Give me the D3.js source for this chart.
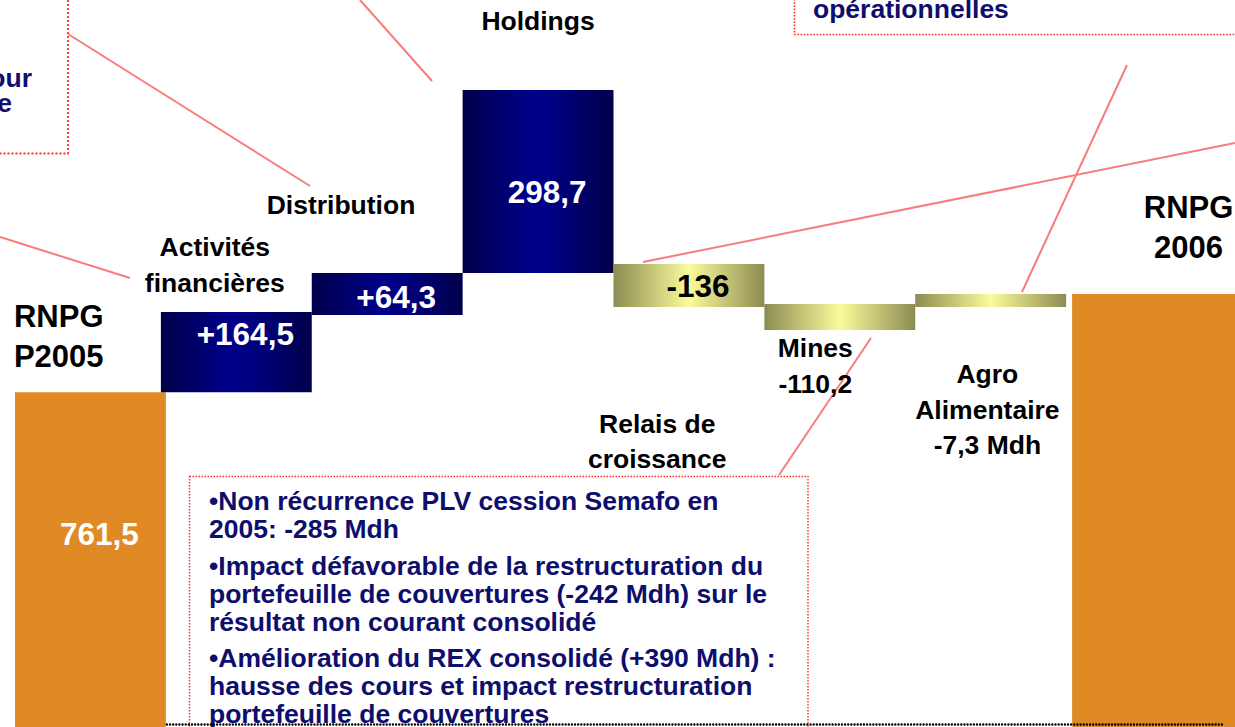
<!DOCTYPE html>
<html><head><meta charset="utf-8">
<script src="https://cdn.jsdelivr.net/npm/d3@7"></script>
<style>html,body{margin:0;padding:0;background:#fff;overflow:hidden}svg{display:block}</style>
</head><body>
<svg id="c" width="1235" height="727"></svg>
<script>
// ---------------- data ----------------
const categories = ["RNPG P2005", "Activités financières", "Distribution", "Holdings",
  "Relais de croissance", "Mines", "Agro Alimentaire", "RNPG 2006"];
const values = [761.5, 164.5, 64.3, 298.7, -136, -110.2, -7.3, 1035.5];
const kinds = ["total", "up", "up", "up", "down", "down", "down", "total"];
// bar extents as drawn in the (schematic) picture, in chart value units
const barLow  = [0, 761.5, 916, 1000, 932, 886, 932, 0];
const barHigh = [761.5, 922, 1000, 1366, 1018, 938, 958, 958];
const valueText = ["761,5", "+164,5", "+64,3", "298,7", "-136", null, null, "+1 035,5"];
const categoryLines = [["RNPG", "P2005"], ["Activités", "financières"], ["Distribution"], ["Holdings"],
  ["Relais de", "croissance"], ["Mines", "-110,2"], ["Agro", "Alimentaire", "-7,3 Mdh"], ["RNPG", "2006"]];
const noteParagraphs = [
  ["•Non récurrence PLV cession Semafo en", "2005: -285 Mdh"],
  ["•Impact défavorable de la restructuration du", "portefeuille de couvertures (-242 Mdh) sur le", "résultat non courant consolidé"],
  ["•Amélioration du REX consolidé (+390 Mdh) :", "hausse des cours et impact restructuration", "portefeuille de couvertures"]
];
const topLeftNote = ["pour", "e"];
const topRightNote = ["opérationnelles"];

// ---------------- drawing ----------------
const W = 1235, H = 727;
const FONT = "'Liberation Sans', Arial, Helvetica, sans-serif";
const NAVY_TEXT = "#0e0e6c";
const svg = d3.select("#c").attr("font-family", FONT).attr("font-weight", "bold");
svg.append("rect").attr("width", W).attr("height", H).attr("fill", "#fff");

const x = d3.scaleBand().domain(categories).range([10, 1217]).paddingInner(0).paddingOuter(0);
const y = d3.scaleLinear().domain([0, 1400]).range([773, 73]);
const bw = x.bandwidth();

const defs = svg.append("defs");
function grad(id, stops) {
  const g = defs.append("linearGradient").attr("id", id).attr("x1", 0).attr("x2", 1).attr("y1", 0).attr("y2", 0);
  stops.forEach(([o, c]) => g.append("stop").attr("offset", o).attr("stop-color", c));
}
grad("gNavy", [[0, "#00004a"], [0.45, "#00008a"], [0.6, "#000082"], [1, "#00004a"]]);
grad("gOlive", [[0, "#8c8c52"], [0.5, "#fbfb9c"], [1, "#8c8c52"]]);
const fillFor = k => k === "total" ? "#df8a24" : (k === "up" ? "url(#gNavy)" : "url(#gOlive)");

function barX(i) {
  let x0 = x(categories[i]), w = bw;
  if (i === categories.length - 1) { x0 += 6; w += 12; }
  if (i === 0) { x0 += 5; }
  return [x0, w];
}

// annotation boxes (dotted red)
const boxes = svg.append("g").attr("fill", "none").attr("stroke", "#ff2a2a");
boxes.append("rect").attr("x", -10).attr("y", -10).attr("width", 78).attr("height", 163.5)
  .attr("stroke-width", 1.8).attr("stroke-dasharray", "2,2");
boxes.append("rect").attr("x", 794.5).attr("y", -10).attr("width", 460).attr("height", 44.5)
  .attr("stroke-width", 1.6).attr("stroke-dasharray", "1.6,1.6");
boxes.append("rect").attr("x", 189.5).attr("y", 476.5).attr("width", 618.5).attr("height", 300)
  .attr("stroke-width", 1.4).attr("stroke-dasharray", "1.5,1.5");

// leader lines
const leaders = [
  [[68, 34], [310, 186]],
  [[360, 0], [432, 81]],
  [[0, 237], [130, 278]],
  [[643, 262], [1235, 143]],
  [[1127, 65], [1022, 292]],
  [[871, 338], [779, 475]]
];
svg.append("g").selectAll("line").data(leaders).join("line")
  .attr("x1", d => d[0][0]).attr("y1", d => d[0][1]).attr("x2", d => d[1][0]).attr("y2", d => d[1][1])
  .attr("stroke", "#f77c7c").attr("stroke-width", 2);

// bars
svg.append("g").selectAll("rect").data(categories).join("rect")
  .attr("x", (d, i) => barX(i)[0])
  .attr("width", (d, i) => barX(i)[1])
  .attr("y", (d, i) => y(barHigh[i]))
  .attr("height", (d, i) => y(barLow[i]) - y(barHigh[i]))
  .attr("fill", (d, i) => fillFor(kinds[i]));

// value labels inside bars (offset below bar top)
const valueDy = [153, 33, 35, 113, 33, 0, 0, 273];
svg.append("g").selectAll("text").data(categories).join("text")
  .filter((d, i) => valueText[i] !== null)
  .attr("x", (d, i) => barX(i)[0] + barX(i)[1] / 2 + 9)
  .attr("y", (d, i) => y(barHigh[i]) + valueDy[i])
  .attr("text-anchor", "middle").attr("font-size", 31.5)
  .attr("fill", (d, i) => kinds[i] === "down" ? "#000" : "#fff")
  .text((d, i) => valueText[i]);

// category labels
const catLayout = [
  { dx: -26.7, ref: "top", dy: -65, lh: 40, fs: 31 },
  { dx: -21.5, ref: "top", dy: -56, lh: 36, fs: 26.5 },
  { dx: -46.2, ref: "top", dy: -59, lh: 36, fs: 26.5 },
  { dx: 0, ref: "top", dy: -60, lh: 36, fs: 26.5 },
  { dx: -31.7, ref: "bottom", dy: 126, lh: 35, fs: 26.5 },
  { dx: -24.5, ref: "bottom", dy: 27, lh: 36, fs: 26.5 },
  { dx: -3.3, ref: "bottom", dy: 76, lh: 35.5, fs: 26.5 },
  { dx: 47, ref: "top", dy: -76, lh: 40, fs: 31 }
];
const cat = svg.append("g").attr("fill", "#000").attr("text-anchor", "middle");
categories.forEach((c, i) => {
  const L = catLayout[i];
  const cx = x(c) + bw / 2 + L.dx;
  const by = (L.ref === "top" ? y(barHigh[i]) : y(barLow[i])) + L.dy;
  const t = cat.append("text").attr("font-size", L.fs);
  categoryLines[i].forEach((ln, j) => t.append("tspan").attr("x", cx).attr("y", by + j * L.lh).text(ln));
});

// note texts
const notes = svg.append("g").attr("fill", NAVY_TEXT).attr("font-size", 26.5);
let yy = 510;
noteParagraphs.forEach((p, pi) => {
  p.forEach((ln, li) => {
    notes.append("text").attr("x", 209).attr("y", yy).text(ln);
    yy += 28;
  });
  yy += 8.5;
});
notes.append("text").attr("x", 32).attr("y", 87).attr("text-anchor", "end").text(topLeftNote[0]);
notes.append("text").attr("x", 12).attr("y", 112).attr("text-anchor", "end").text(topLeftNote[1]);
notes.append("text").attr("x", 813).attr("y", 18).text(topRightNote[0]);

// dotted baseline
svg.append("line")
  .attr("x1", barX(0)[0] + barX(0)[1] + 1).attr("x2", 1224)
  .attr("y1", 724.5).attr("y2", 724.5)
  .attr("stroke", "#000").attr("stroke-width", 2.4)
  .attr("stroke-linecap", "round").attr("stroke-dasharray", "0,3.14");
</script>
</body></html>
